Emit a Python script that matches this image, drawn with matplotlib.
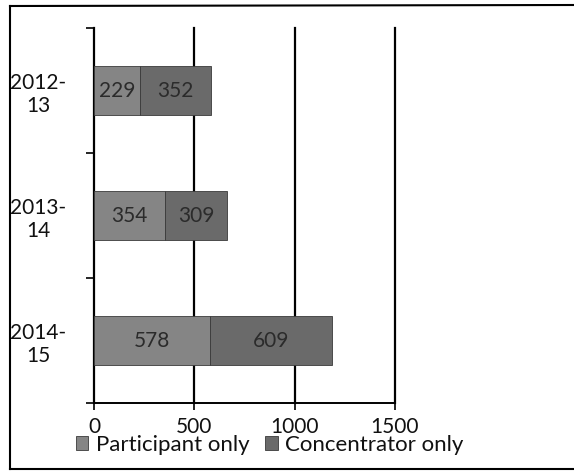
import numpy as np
import matplotlib
matplotlib.use("Agg")
import matplotlib.pyplot as plt
from matplotlib.lines import Line2D

plt.rcParams['font.family'] = ['Lato', 'DejaVu Sans']

years = ["2012-\n13", "2013-\n14", "2014-\n15"]
participant = [229, 354, 578]
concentrator = [352, 309, 609]
series_names = ["Participant only", "Concentrator only"]
x_ticks = [0, 500, 1000, 1500]

part_color = "#858585"
conc_color = "#6a6a6a"
text_color = "#2b2b2b"

fig = plt.figure(figsize=(5.74, 4.73), dpi=100)
ax = fig.add_axes([94 / 574, 1 - 403 / 473, (395 - 94) / 574, (403 - 28) / 473])

y = np.arange(len(years))
h = 0.39
b1 = ax.barh(y, participant, height=h, color=part_color, edgecolor="#3a3a3a", linewidth=0.6,
             label=series_names[0], zorder=3)
b2 = ax.barh(y, concentrator, left=participant, height=h, color=conc_color, edgecolor="#3a3a3a",
             linewidth=0.6, label=series_names[1], zorder=3)
ax.bar_label(b1, label_type="center", fontsize=15, color=text_color)
ax.bar_label(b2, label_type="center", fontsize=15, color=text_color)

ax.set_xlim(0, 1500)
ax.set_ylim(len(years) - 0.5, -0.5)
ax.set_xticks(x_ticks)
ax.set_xticklabels([str(v) for v in x_ticks], fontsize=15, color="#111111")
ax.tick_params(axis="x", direction="inout", length=10, width=1.2, pad=5)

ax.set_yticks(y)
ax.set_yticklabels(years, fontsize=15, color="#111111", multialignment="center")
ax.tick_params(axis="y", which="major", length=0, pad=20)
ax.set_yticks(np.arange(-0.5, len(years)), minor=True)
ax.tick_params(axis="y", which="minor", length=6, width=1.2, direction="out")

ax.grid(axis="x", color="black", linewidth=1.6, zorder=1)
for line in ax.get_xgridlines():
    line.set_clip_on(False)
for side in ["top", "right"]:
    ax.spines[side].set_visible(False)
ax.spines["left"].set_linewidth(1.4)
ax.spines["bottom"].set_linewidth(1.4)

fig.legend(handles=[b1, b2], loc="center", bbox_to_anchor=(270 / 574, 1 - 445 / 473),
           ncol=2, frameon=False, fontsize=16, handlelength=0.55, handleheight=0.55,
           handletextpad=0.35, columnspacing=0.7, labelcolor="#111111")

# page frame around the chart
frame = dict(color="black", linewidth=1.5, transform=fig.transFigure, clip_on=False)
fig.add_artist(Line2D([10 / 574, 10 / 574], [1 - 6 / 473, 1 - 469 / 473], **frame))
fig.add_artist(Line2D([10 / 574, 1.0], [1 - 6 / 473, 1 - 5 / 473], **frame))
fig.add_artist(Line2D([10 / 574, 1.0], [1 - 469 / 473, 1 - 469 / 473], **frame))

fig.savefig("out.png", dpi=100)
